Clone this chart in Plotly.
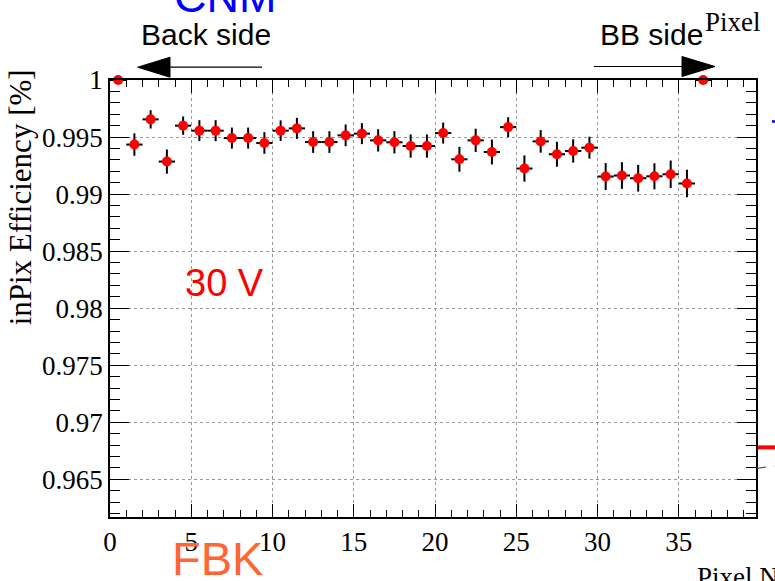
import plotly.graph_objects as go

# ---------------- data ----------------
pixel_center = [0.5, 1.5, 2.5, 3.5, 4.5, 5.5, 6.5, 7.5, 8.5, 9.5,
                10.5, 11.5, 12.5, 13.5, 14.5, 15.5, 16.5, 17.5, 18.5, 19.5,
                20.5, 21.5, 22.5, 23.5, 24.5, 25.5, 26.5, 27.5, 28.5, 29.5,
                30.5, 31.5, 32.5, 33.5, 34.5, 35.5, 36.5]
efficiency = [1.0, 0.99434, 0.99655, 0.99285, 0.99600, 0.99556, 0.99556, 0.99491, 0.99491, 0.99448,
              0.99556, 0.99576, 0.99456, 0.99456, 0.99515, 0.99530, 0.99471, 0.99454, 0.99421, 0.99421,
              0.99535, 0.99305, 0.99471, 0.99369, 0.99587, 0.99224, 0.99462, 0.99349, 0.99378, 0.99407,
              0.99154, 0.99163, 0.99139, 0.99156, 0.99174, 0.99093, 1.0]
eff_err = [0.0, 0.00098, 0.00080, 0.00106, 0.00080, 0.00092, 0.00092, 0.00092, 0.00092, 0.00095,
           0.00090, 0.00092, 0.00095, 0.00095, 0.00095, 0.00092, 0.00098, 0.00098, 0.00102, 0.00102,
           0.00092, 0.00109, 0.00102, 0.00109, 0.00087, 0.00115, 0.00099, 0.00109, 0.00102, 0.00096,
           0.00118, 0.00117, 0.00117, 0.00114, 0.00120, 0.00121, 0.0]
bin_half = [0.5] * len(pixel_center)

x_tick_vals = [0, 5, 10, 15, 20, 25, 30, 35]
x_tick_text = ["0", "5", "10", "15", "20", "25", "30", "35"]
y_tick_vals = [0.965, 0.97, 0.975, 0.98, 0.985, 0.99, 0.995, 1.0]
y_tick_text = ["0.965", "0.97", "0.975", "0.98", "0.985", "0.99", "0.995", "1"]

# ---------------- layout geometry (pixels) ----------------
W, H = 775, 581
L, R, T, B = 110, 756, 79.5, 517


def xp(px):
    return (px - L) / (R - L)


def yp(py):
    return (B - py) / (B - T)


serif = "Liberation Serif"
sans = "Liberation Sans"

fig = go.Figure()
fig.add_trace(go.Scatter(
    x=pixel_center, y=efficiency, mode="markers",
    marker=dict(color="#ff0000", size=10, symbol="circle", line=dict(width=0)),
    error_y=dict(type="data", array=eff_err, color="black", thickness=2, width=0),
    error_x=dict(type="data", array=bin_half, color="black", thickness=2, width=0),
    cliponaxis=False, showlegend=False,
))

fig.update_xaxes(
    range=[0, 39.75], tickvals=x_tick_vals, ticktext=x_tick_text,
    ticklen=13,
    minor=dict(dtick=1, ticklen=7, ticks="inside", tickcolor="black", showgrid=False),
    showline=True, linecolor="black", linewidth=1.5, mirror="allticks",
    ticks="inside", tickcolor="black", tickwidth=1.2,
    showgrid=True, gridcolor="#999999", griddash="dot", gridwidth=1,
    zeroline=False,
    tickfont=dict(family=serif, size=27, color="black"),
)
fig.update_yaxes(
    range=[0.9617, 1.0], tickvals=y_tick_vals, ticktext=y_tick_text,
    ticklen=19,
    minor=dict(dtick=0.001, tick0=0.96, ticklen=10, ticks="inside", tickcolor="black", showgrid=False),
    showline=True, linecolor="black", linewidth=1.5, mirror="allticks",
    ticks="inside", tickcolor="black", tickwidth=1.2,
    showgrid=True, gridcolor="#999999", griddash="dot", gridwidth=1,
    zeroline=False,
    tickfont=dict(family=serif, size=27, color="black"),
)

annotations = [
    dict(text="CNM", x=xp(225), y=yp(-4), font=dict(family=sans, size=45, color="#0000ff"),
         xanchor="center", yanchor="middle"),
    dict(text="Back side", x=xp(206), y=yp(34), font=dict(family=sans, size=30, color="black"),
         xanchor="center", yanchor="middle"),
    dict(text="BB side", x=xp(651), y=yp(34), font=dict(family=sans, size=30, color="black"),
         xanchor="center", yanchor="middle"),
    dict(text="Pixel", x=xp(703), y=yp(21), font=dict(family=serif, size=27, color="black"),
         xanchor="left", yanchor="middle"),
    dict(text="30 V", x=xp(224), y=yp(283), font=dict(family=sans, size=38, color="#ff0000"),
         xanchor="center", yanchor="middle"),
    dict(text="FBK", x=xp(217), y=yp(559), font=dict(family=sans, size=47, color="#ff6633"),
         xanchor="center", yanchor="middle"),
    dict(text="Pixel Number", x=xp(695), y=yp(577), font=dict(family=serif, size=27, color="black"),
         xanchor="left", yanchor="middle"),
    dict(text="inPix Efficiency [%]", x=xp(20), y=yp(197), textangle=-90,
         font=dict(family=serif, size=31, color="black"), xanchor="center", yanchor="middle"),
]
for a in annotations:
    a.update(xref="paper", yref="paper", showarrow=False)

shapes = [
    # Back side arrow
    dict(type="line", x0=xp(262), x1=xp(168), y0=yp(66.7), y1=yp(66.7),
         line=dict(color="black", width=1.2)),
    dict(type="path",
         path=f"M {xp(137.7)},{yp(66.7)} L {xp(170)},{yp(56.7)} L {xp(170)},{yp(76.7)} Z",
         fillcolor="black", line=dict(color="black", width=1)),
    # BB side arrow
    dict(type="line", x0=xp(594), x1=xp(684), y0=yp(66), y1=yp(66),
         line=dict(color="black", width=1.2)),
    dict(type="path",
         path=f"M {xp(715)},{yp(66)} L {xp(682)},{yp(56)} L {xp(682)},{yp(76)} Z",
         fillcolor="black", line=dict(color="black", width=1)),
    # fragments of neighbouring pad on the right edge
    dict(type="line", x0=xp(772), x1=xp(775), y0=yp(121), y1=yp(121),
         line=dict(color="#0000ff", width=2.5)),
    dict(type="line", x0=xp(758), x1=xp(776), y0=yp(447.3), y1=yp(447.3),
         line=dict(color="#ff0000", width=4)),
    dict(type="line", x0=xp(757), x1=xp(776), y0=yp(468.3), y1=yp(465.6),
         line=dict(color="#555555", width=1.2, dash="dash")),
]
for s in shapes:
    s.update(xref="paper", yref="paper", layer="above")

fig.update_layout(
    width=W, height=H,
    margin=dict(l=L, r=W - R, t=T, b=H - B, pad=0),
    paper_bgcolor="white", plot_bgcolor="white",
    font=dict(family=serif, color="black"),
    annotations=annotations, shapes=shapes,
    showlegend=False,
)

fig.write_html(
    "out.html",
    config={"displayModeBar": False},
    post_script="document.body.style.margin='0';document.body.style.padding='0';"
                "document.body.style.overflow='hidden';",
)
